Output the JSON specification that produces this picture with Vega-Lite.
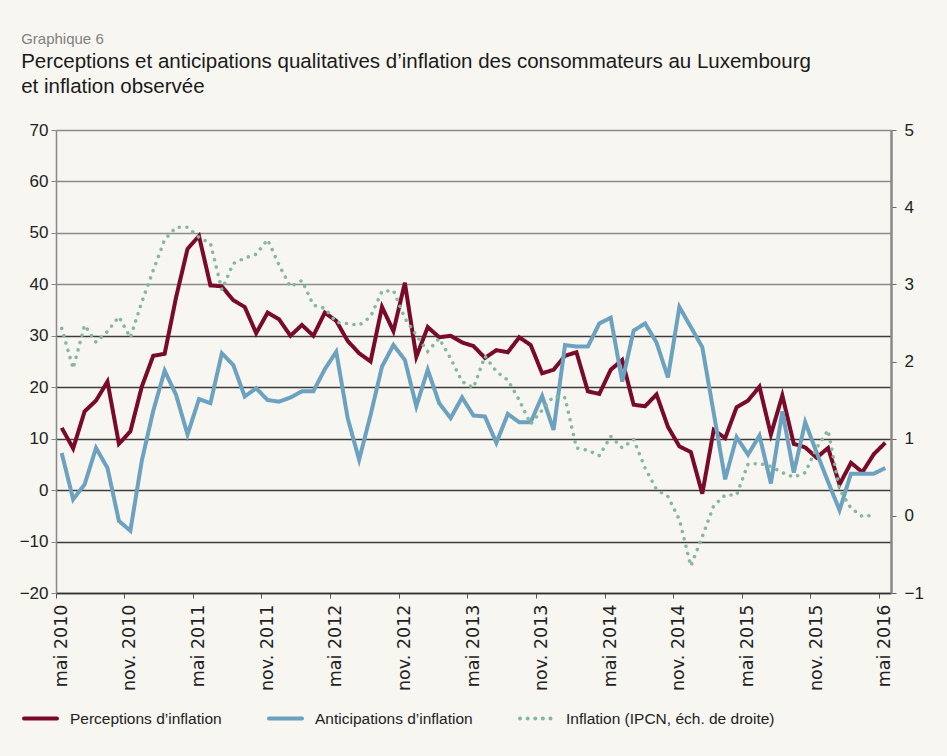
{
  "$schema": "https://vega.github.io/schema/vega-lite/v6.json",
  "width": 835,
  "height": 463,
  "autosize": {"type": "none"},
  "padding": {"left": 56, "top": 130, "right": 56, "bottom": 163},
  "background": "#f7f6f1",
  "title": {
    "text": "Graphique 6",
    "subtitle": ["Perceptions et anticipations qualitatives d’inflation des consommateurs au Luxembourg", "et inflation observée"],
    "anchor": "start",
    "frame": "bounds",
    "dx": 2,
    "font": "Liberation Sans",
    "fontSize": 15,
    "fontWeight": "normal",
    "color": "#808080",
    "subtitleFont": "Liberation Sans",
    "subtitleFontSize": 20.5,
    "subtitleColor": "#1a1a1a",
    "subtitlePadding": 5,
    "subtitleLineHeight": 25,
    "offset": 24
  },
  "config": {
    "view": {"stroke": null},
    "axis": {"labelFont": "Liberation Sans", "labelColor": "#222222", "title": null}
  },
  "data": {
    "values": [
      {"mois":"2010-05","perceptions":12.1,"anticipations":7.2,"inflation":2.43},
      {"mois":"2010-06","perceptions":8.1,"anticipations":-1.8,"inflation":1.91},
      {"mois":"2010-07","perceptions":15.3,"anticipations":1.1,"inflation":2.47},
      {"mois":"2010-08","perceptions":17.4,"anticipations":8.2,"inflation":2.25},
      {"mois":"2010-09","perceptions":21.1,"anticipations":4.3,"inflation":2.39},
      {"mois":"2010-10","perceptions":9.0,"anticipations":-6.0,"inflation":2.58},
      {"mois":"2010-11","perceptions":11.4,"anticipations":-7.9,"inflation":2.31},
      {"mois":"2010-12","perceptions":20.1,"anticipations":5.7,"inflation":2.77},
      {"mois":"2011-01","perceptions":26.1,"anticipations":15.4,"inflation":3.18},
      {"mois":"2011-02","perceptions":26.5,"anticipations":23.2,"inflation":3.58},
      {"mois":"2011-03","perceptions":37.5,"anticipations":18.5,"inflation":3.74},
      {"mois":"2011-04","perceptions":46.9,"anticipations":10.8,"inflation":3.74},
      {"mois":"2011-05","perceptions":49.4,"anticipations":17.7,"inflation":3.61},
      {"mois":"2011-06","perceptions":39.8,"anticipations":16.9,"inflation":3.53},
      {"mois":"2011-07","perceptions":39.6,"anticipations":26.6,"inflation":2.93},
      {"mois":"2011-08","perceptions":36.9,"anticipations":24.3,"inflation":3.27},
      {"mois":"2011-09","perceptions":35.6,"anticipations":18.2,"inflation":3.34},
      {"mois":"2011-10","perceptions":30.5,"anticipations":19.8,"inflation":3.39},
      {"mois":"2011-11","perceptions":34.5,"anticipations":17.5,"inflation":3.58},
      {"mois":"2011-12","perceptions":33.2,"anticipations":17.2,"inflation":3.25},
      {"mois":"2012-01","perceptions":30.0,"anticipations":18.0,"inflation":2.97},
      {"mois":"2012-02","perceptions":32.1,"anticipations":19.2,"inflation":3.05},
      {"mois":"2012-03","perceptions":30.0,"anticipations":19.2,"inflation":2.73},
      {"mois":"2012-04","perceptions":34.5,"anticipations":23.5,"inflation":2.69},
      {"mois":"2012-05","perceptions":32.9,"anticipations":26.9,"inflation":2.51},
      {"mois":"2012-06","perceptions":29.0,"anticipations":14.0,"inflation":2.49},
      {"mois":"2012-07","perceptions":26.6,"anticipations":5.9,"inflation":2.47},
      {"mois":"2012-08","perceptions":25.0,"anticipations":14.6,"inflation":2.58},
      {"mois":"2012-09","perceptions":35.6,"anticipations":24.0,"inflation":2.91},
      {"mois":"2012-10","perceptions":30.9,"anticipations":28.2,"inflation":2.92},
      {"mois":"2012-11","perceptions":40.3,"anticipations":25.3,"inflation":2.56},
      {"mois":"2012-12","perceptions":25.9,"anticipations":16.3,"inflation":2.34},
      {"mois":"2013-01","perceptions":31.7,"anticipations":23.4,"inflation":2.13},
      {"mois":"2013-02","perceptions":29.7,"anticipations":16.9,"inflation":2.30},
      {"mois":"2013-03","perceptions":30.0,"anticipations":14.0,"inflation":2.04},
      {"mois":"2013-04","perceptions":28.7,"anticipations":18.0,"inflation":1.74},
      {"mois":"2013-05","perceptions":28.0,"anticipations":14.5,"inflation":1.66},
      {"mois":"2013-06","perceptions":25.7,"anticipations":14.3,"inflation":2.07},
      {"mois":"2013-07","perceptions":27.2,"anticipations":9.2,"inflation":1.87},
      {"mois":"2013-08","perceptions":26.8,"anticipations":14.8,"inflation":1.76},
      {"mois":"2013-09","perceptions":29.7,"anticipations":13.2,"inflation":1.50},
      {"mois":"2013-10","perceptions":28.2,"anticipations":13.2,"inflation":1.19},
      {"mois":"2013-11","perceptions":22.7,"anticipations":18.3,"inflation":1.37},
      {"mois":"2013-12","perceptions":23.4,"anticipations":11.7,"inflation":1.55},
      {"mois":"2014-01","perceptions":26.1,"anticipations":28.2,"inflation":1.53},
      {"mois":"2014-02","perceptions":26.8,"anticipations":27.9,"inflation":0.88},
      {"mois":"2014-03","perceptions":19.2,"anticipations":27.9,"inflation":0.85},
      {"mois":"2014-04","perceptions":18.7,"anticipations":32.4,"inflation":0.78},
      {"mois":"2014-05","perceptions":23.4,"anticipations":33.5,"inflation":1.03},
      {"mois":"2014-06","perceptions":25.3,"anticipations":21.1,"inflation":0.88},
      {"mois":"2014-07","perceptions":16.6,"anticipations":31.0,"inflation":0.99},
      {"mois":"2014-08","perceptions":16.3,"anticipations":32.4,"inflation":0.62},
      {"mois":"2014-09","perceptions":18.6,"anticipations":28.7,"inflation":0.34},
      {"mois":"2014-10","perceptions":12.3,"anticipations":21.9,"inflation":0.25},
      {"mois":"2014-11","perceptions":8.5,"anticipations":35.6,"inflation":-0.05},
      {"mois":"2014-12","perceptions":7.4,"anticipations":31.7,"inflation":-0.65},
      {"mois":"2015-01","perceptions":-0.7,"anticipations":27.8,"inflation":-0.27},
      {"mois":"2015-02","perceptions":11.7,"anticipations":15.0,"inflation":0.13},
      {"mois":"2015-03","perceptions":10.1,"anticipations":2.1,"inflation":0.27},
      {"mois":"2015-04","perceptions":16.1,"anticipations":10.3,"inflation":0.27},
      {"mois":"2015-05","perceptions":17.4,"anticipations":6.9,"inflation":0.67},
      {"mois":"2015-06","perceptions":20.1,"anticipations":10.6,"inflation":0.68},
      {"mois":"2015-07","perceptions":10.8,"anticipations":1.3,"inflation":0.64},
      {"mois":"2015-08","perceptions":18.4,"anticipations":15.3,"inflation":0.56},
      {"mois":"2015-09","perceptions":9.0,"anticipations":3.4,"inflation":0.50},
      {"mois":"2015-10","perceptions":8.3,"anticipations":13.2,"inflation":0.56},
      {"mois":"2015-11","perceptions":6.3,"anticipations":7.3,"inflation":0.88},
      {"mois":"2015-12","perceptions":8.2,"anticipations":1.6,"inflation":1.11},
      {"mois":"2016-01","perceptions":1.1,"anticipations":-3.9,"inflation":0.34},
      {"mois":"2016-02","perceptions":5.3,"anticipations":3.2,"inflation":0.10},
      {"mois":"2016-03","perceptions":3.5,"anticipations":3.2,"inflation":-0.01},
      {"mois":"2016-04","perceptions":7.0,"anticipations":3.2,"inflation":0.01},
      {"mois":"2016-05","perceptions":9.2,"anticipations":4.3}
    ]
  },
  "encoding": {
    "x": {
      "field": "mois",
      "type": "ordinal",
      "sort": "ascending",
      "scale": {"type": "band", "paddingInner": 0, "paddingOuter": 0},
      "axis": {
        "values": ["2010-05","2010-11","2011-05","2011-11","2012-05","2012-11","2013-05","2013-11","2014-05","2014-11","2015-05","2015-11","2016-05"],
        "labelExpr": "(substring(datum.value,5,7)=='05' ? 'mai ' : 'nov. ') + substring(datum.value,0,4)",
        "bandPosition": 0,
        "labelAngle": 270,
        "labelAlign": "right",
        "labelBaseline": "middle",
        "labelFont": "DejaVu Sans",
        "labelFontSize": 17.5,
        "labelPadding": 6,
        "tickSize": 5,
        "tickColor": "#555555",
        "domainColor": "#333333",
        "domainWidth": 1.5,
        "grid": false,
        "title": null
      }
    }
  },
  "layer": [
    {
      "transform": [{"fold": ["perceptions", "anticipations"], "as": ["serie", "valeur"]}],
      "mark": {"type": "line", "strokeWidth": 4},
      "encoding": {
        "y": {
          "field": "valeur",
          "type": "quantitative",
          "scale": {"domain": [-20, 70], "nice": false, "zero": false},
          "axis": {
            "orient": "left",
            "values": [-20, -10, 0, 10, 20, 30, 40, 50, 60, 70],
            "labelFontSize": 17,
            "labelPadding": 3,
            "tickSize": 5,
            "tickColor": "#888888",
            "domainColor": "#888888",
            "domainWidth": 1.5,
            "grid": true,
            "gridColor": {"condition": {"test": "datum.value >= 40", "value": "#8c8c8c"}, "value": "#3c3c3c"},
            "gridWidth": 1.5,
            "title": null
          }
        },
        "color": {
          "field": "serie",
          "type": "nominal",
          "scale": {"domain": ["perceptions", "anticipations", "inflation"], "range": ["#7a0a2a", "#6ca2c0", "#86b89d"]},
          "legend": {
            "orient": "none",
            "legendX": -34,
            "legendY": 570,
            "direction": "horizontal",
            "title": null,
            "padding": 0,
            "symbolType": "stroke",
            "symbolSize": 1089,
            "symbolStrokeWidth": 4,
            "labelOffset": 11,
            "columnPadding": 39,
            "labelFont": "Liberation Sans",
            "labelFontSize": 15.5,
            "labelLimit": 400,
            "labelColor": "#222222",
            "labelExpr": "datum.value == 'perceptions' ? 'Perceptions d’inflation' : datum.value == 'anticipations' ? 'Anticipations d’inflation' : 'Inflation (IPCN, éch. de droite)'",
            "encode": {"symbols": {"update": {"strokeCap": {"value": "round"}}}}
          }
        },
        "strokeDash": {
          "field": "serie",
          "type": "nominal",
          "scale": {"domain": ["perceptions", "anticipations", "inflation"], "range": [[1, 0], [1, 0], [0.1, 7.5]]},
          "legend": null
        }
      }
    },
    {
      "transform": [{"fold": ["inflation"], "as": ["serie", "valeur"]}],
      "mark": {"type": "line", "strokeWidth": 3.5, "strokeCap": "round"},
      "encoding": {
        "y": {
          "field": "valeur",
          "type": "quantitative",
          "scale": {"domain": [-1, 5], "nice": false, "zero": false},
          "axis": {
            "orient": "right",
            "values": [-1, 0, 1, 2, 3, 4, 5],
            "labelFontSize": 17,
            "labelPadding": 8,
            "tickSize": 5,
            "tickColor": "#666666",
            "domainColor": "#888888",
            "domainWidth": 2.5,
            "grid": false,
            "title": null
          }
        },
        "color": {"field": "serie", "type": "nominal"},
        "strokeDash": {"field": "serie", "type": "nominal", "legend": null}
      }
    }
  ],
  "resolve": {"scale": {"y": "independent"}}
}
